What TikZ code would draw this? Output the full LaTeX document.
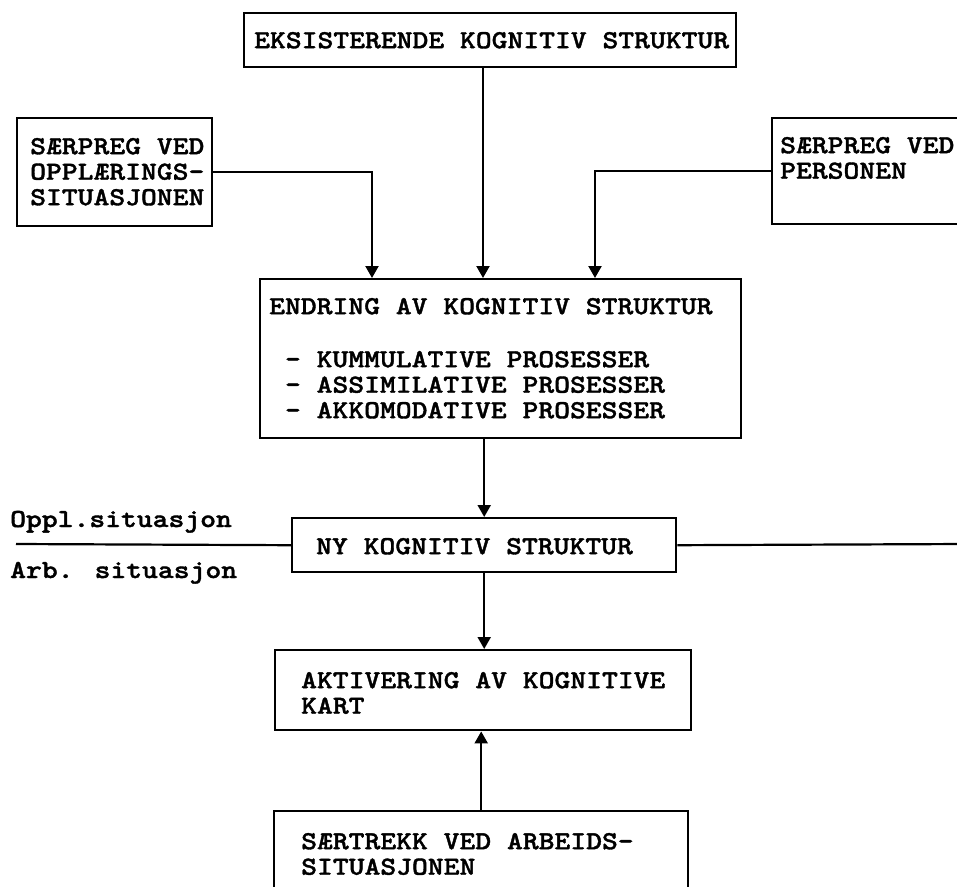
\documentclass[tikz,border=0pt]{standalone}
\usepackage{fontspec}
\newfontfamily\twfont{lmmonolt10-bold.otf}[FakeStretch=1.16,FakeBold=1.4]
\usetikzlibrary{arrows.meta}

% box contents: width, height, left gap, first baseline from top, lines
\newcommand\bxt[5]{\parbox[c][#2pt][t]{#1pt}{\raggedright\leftskip=#3pt\relax
  \vspace*{\dimexpr#4pt-20pt\relax}\rule{0pt}{20pt}#5}}

\tikzset{
  typewriter/.style={font=\twfont\fontsize{26}{25.5}\selectfont},
  boxnode/.style={typewriter, draw, line width=2.4pt, inner sep=0pt, anchor=north west},
  link/.style={line width=2.2pt},
  arr/.style={link, -{Triangle[width=13pt,length=12pt]}},
  sidelabel/.style={typewriter, inner sep=0pt, anchor=base west}
}

\begin{document}
\begin{tikzpicture}[x=1pt,y=-1pt]
  \useasboundingbox (0,0) rectangle (957,886);
  \fill[white] (0,0) rectangle (957,886);
  \clip (0,0) rectangle (957,886);

  % boxes
  \node[boxnode] (exist)   at (243,12)  {\bxt{492}{54}{10}{35}{EKSISTERENDE KOGNITIV STRUKTUR}};
  \node[boxnode] (opp)     at (16,117)  {\bxt{195}{108}{13}{36}{SÆRPREG VED\\OPPLÆRINGS-\\SITUASJONEN}};
  \node[boxnode] (pers)    at (771,117) {\bxt{230}{106}{8}{35}{SÆRPREG VED\\PERSONEN}};
  \node[boxnode] (endring) at (259,278) {\bxt{481}{159}{9}{35}{ENDRING AV KOGNITIV STRUKTUR\\[27.5pt]
      ~-~KUMMULATIVE PROSESSER\\~-~ASSIMILATIVE PROSESSER\\~-~AKKOMODATIVE PROSESSER}};
  \node[boxnode] (ny)      at (291,517) {\bxt{384}{54}{24}{36}{NY KOGNITIV STRUKTUR}};
  \node[boxnode] (akt)     at (274,649) {\bxt{416}{80}{26}{38}{AKTIVERING AV KOGNITIVE\\KART}};
  \node[boxnode] (saer)    at (273,810) {\bxt{414}{100}{27}{38}{SÆRTREKK VED ARBEIDS-\\SITUASJONEN}};

  % side labels on the dividing line
  \node[sidelabel] (oppl) at (10,527) {Oppl.situasjon};
  \node[sidelabel] (arb)  at (10,578) {Arb. situasjon};

  % entry points on the top edge of the change box
  \coordinate (e1) at (372,278);
  \coordinate (e2) at (483,278);
  \coordinate (e3) at (595,278);
  % ends of the dividing line
  \coordinate (lineL) at (16,544);
  \coordinate (lineR) at (965,544);

  % connectors
  \draw[arr] (opp.east) -| (e1);
  \draw[arr] (exist.south -| e2) -- (e2);
  \draw[arr] (pers.west) -| (e3);
  \draw[arr] (ny.north |- endring.south) -- (ny.north);
  \draw[arr] (ny.south) -- (ny.south |- akt.north);
  \draw[arr] (saer.north) -- (saer.north |- akt.south);
  \draw[link] (lineL) -- (ny.west);
  \draw[link] (ny.east) -- (lineR);
\end{tikzpicture}
\end{document}
